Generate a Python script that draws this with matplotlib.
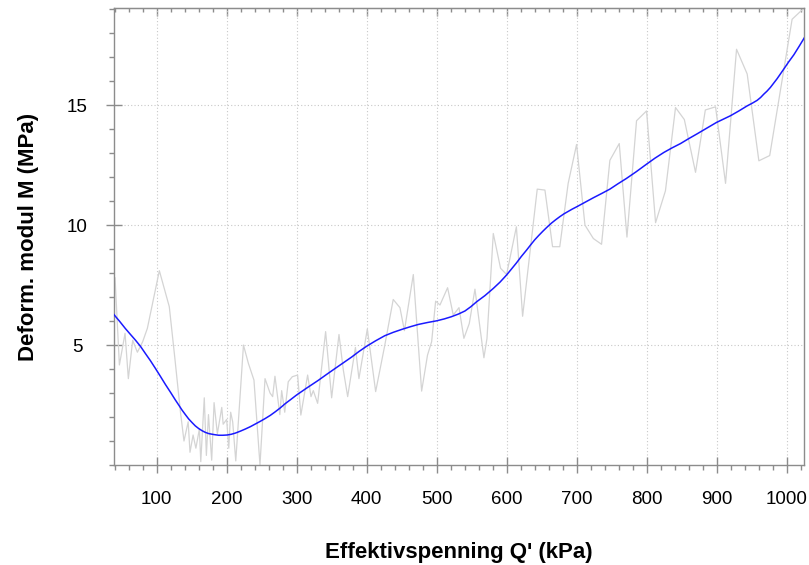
import matplotlib
matplotlib.use("Agg")
import matplotlib.pyplot as plt
from matplotlib.ticker import MultipleLocator, FixedLocator

# Raw measured modulus (grey, noisy)
raw_x = [40.5, 46.7, 54.8, 59.5, 65.7, 72.4, 80, 86.7, 103.8, 118, 126, 134, 139, 145,
         147.6, 152, 156, 161, 163, 168, 171, 174, 178.6, 182, 186.7, 193, 195, 200, 203,
         205.7, 208.6, 213, 224, 231, 239, 247.6, 254.8, 262, 265.7, 269, 276, 278.6, 283,
         288, 293.8, 301.4, 306, 315.7, 320.5, 323.8, 330, 341.4, 350, 360.5, 366.7, 372.9,
         384, 389, 401, 412.9, 426, 438, 447.6, 454, 466.7, 478.6, 487, 492.9, 498.6, 504.8,
         515.7, 523.8, 532, 539, 546.7, 554.8, 567.6, 572, 581, 591.4, 600, 614, 622.9,
         643.8, 654.8, 665.7, 676, 688, 700, 712, 724, 735.7, 747.6, 761, 772, 785.7, 800,
         812.9, 827, 841.4, 854, 870, 884, 898.6, 912.9, 928.6, 943.8, 960.5, 976, 1008,
         1024.8]
raw_m = [7.8, 4.17, 5.49, 3.6, 5.2, 4.7, 5.14, 5.7, 8.1, 6.6, 4.44, 2.2, 1.0, 1.8,
         0.53, 1.25, 0.7, 1.5, 0.14, 2.8, 0.4, 2.1, 0.2, 2.6, 1.3, 2.4, 1.7, 1.9, 0.7,
         2.2, 1.8, 0.17, 5.0, 4.24, 3.54, 0.0, 3.6, 3.0, 2.85, 3.7, 2.1, 3.1, 2.2,
         3.47, 3.68, 3.75, 2.08, 3.75, 2.85, 3.1, 2.57, 5.56, 2.8, 5.44, 3.96, 2.85,
         4.9, 3.6, 5.67, 3.06, 5.0, 6.9, 6.56, 5.6, 7.94, 3.08, 4.58, 5.14, 6.83, 6.67,
         7.39, 6.25, 6.56, 5.28, 5.9, 7.33, 4.47, 5.28, 9.65, 8.2, 7.94, 9.93, 6.2,
         11.5, 11.46, 9.1, 9.1, 11.74, 13.36, 10.0, 9.44, 9.2, 12.7, 13.4, 9.5, 14.35, 14.76,
         10.1, 11.43, 14.9, 14.4, 12.2, 14.8, 14.93, 11.74, 17.33, 16.3, 12.68, 12.9, 18.58,
         19.04]

# Smoothed modulus (blue)
fit_x = [38.6, 47, 55.2, 62, 69.5, 77, 83.8, 91, 98.1, 105, 112.4, 120, 126.7, 131.5,
         136.2, 141, 145.7, 150.5, 155.2, 160, 164.8, 169.5, 174.3, 181.5, 188.6, 194.5,
         200.5, 206.5, 212.4, 219.5, 226.7, 234, 241, 248, 255.2, 262.4, 269.5, 276.6,
         283.8, 292, 300, 315, 331, 343, 354.8, 366.7, 378.6, 389, 400, 413, 426, 438, 450,
         462, 474, 487, 500, 511, 521, 531, 540.5, 549, 557, 569, 581, 590.5, 600, 607,
         614, 621, 628.6, 634.5, 640, 646, 652, 658, 664, 670, 676, 682, 688, 694, 700,
         712, 724, 736, 747.6, 759, 771, 785, 800, 812, 824.8, 836.5, 848.6, 860, 872, 886,
         900, 910, 920, 932, 943.8, 951, 958, 963, 967.6, 972, 977, 986.5, 996, 1003,
         1010.5, 1018, 1025.7]
fit_m = [6.28, 5.99, 5.69, 5.46, 5.21, 4.94, 4.65, 4.35, 4.03, 3.71, 3.36, 3.02, 2.71,
         2.5, 2.29, 2.1, 1.92, 1.77, 1.63, 1.52, 1.43, 1.36, 1.31, 1.27, 1.24, 1.24,
         1.25, 1.28, 1.33, 1.41, 1.5, 1.6, 1.71, 1.82, 1.94, 2.07, 2.22, 2.38,
         2.56, 2.74, 2.92, 3.22, 3.53, 3.78, 4.02, 4.26, 4.5, 4.73, 4.95, 5.18, 5.39, 5.53,
         5.65, 5.76, 5.86, 5.94, 6.01, 6.09, 6.18, 6.29, 6.42, 6.6, 6.8, 7.06, 7.36, 7.62,
         7.92, 8.17, 8.42, 8.69, 8.96, 9.18, 9.38, 9.57, 9.75, 9.92, 10.08, 10.22, 10.35,
         10.47, 10.57, 10.67, 10.76, 10.95, 11.14, 11.32, 11.5, 11.72, 11.94, 12.22, 12.54,
         12.79, 13.03, 13.22, 13.4, 13.6, 13.8, 14.04, 14.28, 14.42, 14.56, 14.76, 14.97,
         15.08, 15.2, 15.32, 15.46, 15.58, 15.74, 16.1, 16.5, 16.8, 17.1, 17.45, 17.82]

xlabel = "Effektivspenning Q' (kPa)"
ylabel = "Deform. modul M (MPa)"
xticks = [100, 200, 300, 400, 500, 600, 700, 800, 900, 1000]
yticks = [5, 10, 15]

plt.rcParams['font.family'] = ['Liberation Sans', 'DejaVu Sans']

fig = plt.figure(figsize=(8.09, 5.65), dpi=100)
ax = fig.add_axes([114/809, 1 - 465/565, (804 - 114)/809, (465 - 8)/565])

ax.plot(raw_x, raw_m, color='#d4d4d4', lw=0.9, zorder=2)
ax.plot(fit_x, fit_m, color='#1a1aff', lw=1.1, zorder=3)

ax.set_xlim(39, 1025)
ax.set_ylim(0, 19.05)

spine_col = '#8c8c8c'
for s in ax.spines.values():
    s.set_color(spine_col)
    s.set_linewidth(1.0)

ax.xaxis.set_major_locator(FixedLocator(xticks))
ax.xaxis.set_minor_locator(MultipleLocator(20))
ax.yaxis.set_major_locator(FixedLocator(yticks))
ax.yaxis.set_minor_locator(MultipleLocator(1))

ax.tick_params(axis='both', which='major', direction='inout', length=11.5, width=1.0,
               color=spine_col, labelsize=13.5, labelcolor='black')
ax.tick_params(axis='both', which='minor', direction='out', length=3.6, width=1.0,
               color=spine_col)
ax.tick_params(axis='x', which='major', pad=13)
ax.tick_params(axis='y', which='major', pad=20.5)
for lab in ax.get_yticklabels():
    lab.set_horizontalalignment('center')

ax.grid(True, which='major', color='#c8c8c8', linestyle=(0, (1, 2)), linewidth=0.8)
ax.set_axisbelow(True)

# top ticks pointing inward
sec = ax.secondary_xaxis('top')
sec.xaxis.set_major_locator(FixedLocator(xticks))
sec.xaxis.set_minor_locator(MultipleLocator(20))
sec.tick_params(which='major', direction='in', length=5.8, width=1.0, color=spine_col,
                labeltop=False)
sec.tick_params(which='minor', direction='in', length=2.9, width=1.0, color=spine_col)
sec.spines['top'].set_color(spine_col)

ax.set_xlabel(xlabel, fontsize=16, fontweight='bold', labelpad=24.5)
ax.set_ylabel(ylabel, fontsize=16, fontweight='bold', labelpad=20)

fig.savefig('out.png', dpi=100)
